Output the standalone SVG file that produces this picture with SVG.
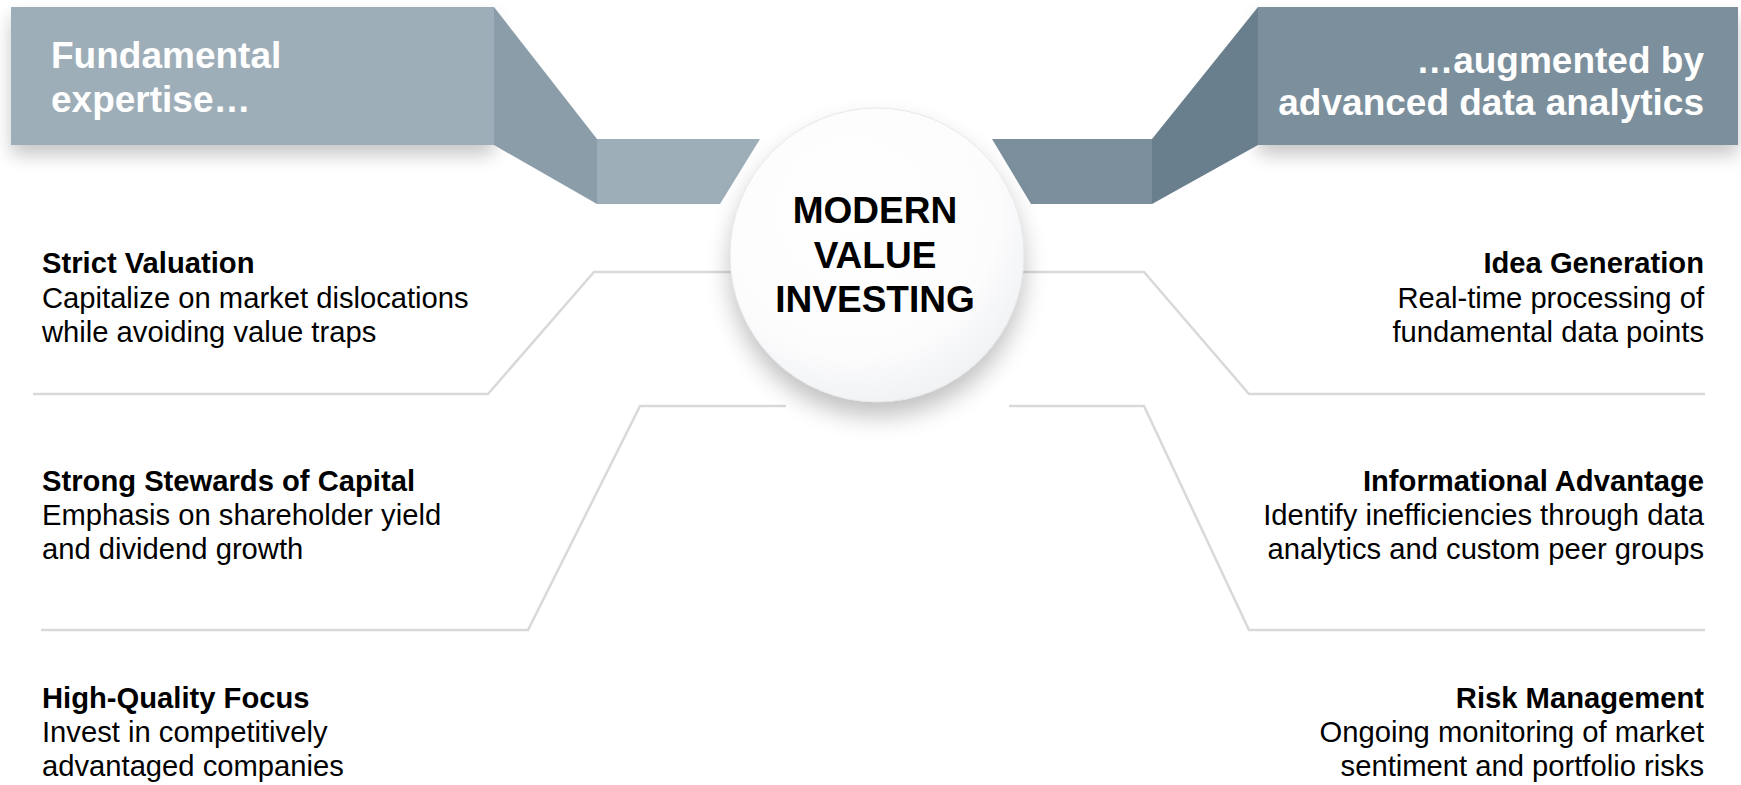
<svg xmlns="http://www.w3.org/2000/svg" width="1741" height="785" viewBox="0 0 1741 785">
<style>
.bt{font-family:"Liberation Sans",Arial,sans-serif;font-weight:bold;font-size:37px;fill:#ffffff}
.ct{font-family:"Liberation Sans",Arial,sans-serif;font-weight:bold;font-size:37px;fill:#000000;text-anchor:middle}
.h{font-family:"Liberation Sans",Arial,sans-serif;font-weight:bold;font-size:29.2px;fill:#000000}
.d{font-family:"Liberation Sans",Arial,sans-serif;font-size:29.2px;fill:#000000}
.r{text-anchor:end}
.ln{fill:none;stroke:#d9d9d9;stroke-width:2.5}
</style>
<defs>
<filter id="bsh" x="-10%" y="-20%" width="120%" height="160%">
<feGaussianBlur in="SourceAlpha" stdDeviation="9"/>
<feOffset dx="0" dy="10" result="b"/>
<feComponentTransfer><feFuncA type="linear" slope="0.22"/></feComponentTransfer>
<feMerge><feMergeNode/><feMergeNode in="SourceGraphic"/></feMerge>
</filter>
<filter id="csh" x="-30%" y="-30%" width="160%" height="170%">
<feGaussianBlur in="SourceAlpha" stdDeviation="12"/>
<feOffset dx="0" dy="14" result="b"/>
<feComponentTransfer><feFuncA type="linear" slope="0.25"/></feComponentTransfer>
<feMerge><feMergeNode/><feMergeNode in="SourceGraphic"/></feMerge>
</filter>
<radialGradient id="cg" cx="0.42" cy="0.35" r="0.7">
<stop offset="0" stop-color="#ffffff"/>
<stop offset="0.7" stop-color="#fcfcfd"/>
<stop offset="1" stop-color="#eef0f2"/>
</radialGradient>
</defs>
<rect width="1741" height="785" fill="#ffffff"/>
<g id="connectors">
<polyline class="ln" points="740,272 594,272 488,394 33,394"/>
<polyline class="ln" points="786,406 640,406 528,630 41,630"/>
<polyline class="ln" points="1000,272 1144,272 1249,394 1705,394"/>
<polyline class="ln" points="1009,406 1144,406 1249,630 1705,630"/>
</g>
<g id="banner-left">
<g filter="url(#bsh)">
<rect x="11" y="7" width="483" height="138" fill="#9eaeb9"/>
</g>
<polygon points="494,7 597,139 597,204 494,145" fill="#8b9da9"/>
<polygon points="597,139 760,139 720,204 597,204" fill="#9eaeb9"/>
<text class="bt" x="51" y="68">Fundamental</text>
<text class="bt" x="51" y="112">expertise…</text>
</g>
<g id="banner-right">
<g filter="url(#bsh)">
<rect x="1258" y="7" width="480" height="138" fill="#7b8f9c"/>
</g>
<polygon points="1258,7 1152,139 1152,204 1258,145" fill="#6a7f8d"/>
<polygon points="1152,139 992,139 1031,204 1152,204" fill="#7b8f9c"/>
<text class="bt r" x="1704" y="73">…augmented by</text>
<text class="bt r" x="1704" y="115">advanced data analytics</text>
</g>
<g id="center">
<circle cx="877" cy="255" r="147" fill="url(#cg)" filter="url(#csh)"/>
<circle cx="877" cy="255" r="147" fill="none" stroke="#e6e8ea" stroke-width="1"/>
<text class="ct" x="875" y="223">MODERN</text>
<text class="ct" x="875" y="268">VALUE</text>
<text class="ct" x="875" y="312">INVESTING</text>
</g>
<g id="strict-valuation">
<text class="h" x="42" y="273">Strict Valuation</text>
<text class="d" x="42" y="308">Capitalize on market dislocations</text>
<text class="d" x="42" y="342">while avoiding value traps</text>
</g>
<g id="strong-stewards">
<text class="h" x="42" y="491">Strong Stewards of Capital</text>
<text class="d" x="42" y="525">Emphasis on shareholder yield</text>
<text class="d" x="42" y="559">and dividend growth</text>
</g>
<g id="high-quality">
<text class="h" x="42" y="708">High-Quality Focus</text>
<text class="d" x="42" y="742">Invest in competitively</text>
<text class="d" x="42" y="776">advantaged companies</text>
</g>
<g id="idea-generation">
<text class="h r" x="1704" y="273">Idea Generation</text>
<text class="d r" x="1704" y="308">Real-time processing of</text>
<text class="d r" x="1704" y="342">fundamental data points</text>
</g>
<g id="informational-advantage">
<text class="h r" x="1704" y="491">Informational Advantage</text>
<text class="d r" x="1704" y="525">Identify inefficiencies through data</text>
<text class="d r" x="1704" y="559">analytics and custom peer groups</text>
</g>
<g id="risk-management">
<text class="h r" x="1704" y="708">Risk Management</text>
<text class="d r" x="1704" y="742">Ongoing monitoring of market</text>
<text class="d r" x="1704" y="776">sentiment and portfolio risks</text>
</g>
</svg>
